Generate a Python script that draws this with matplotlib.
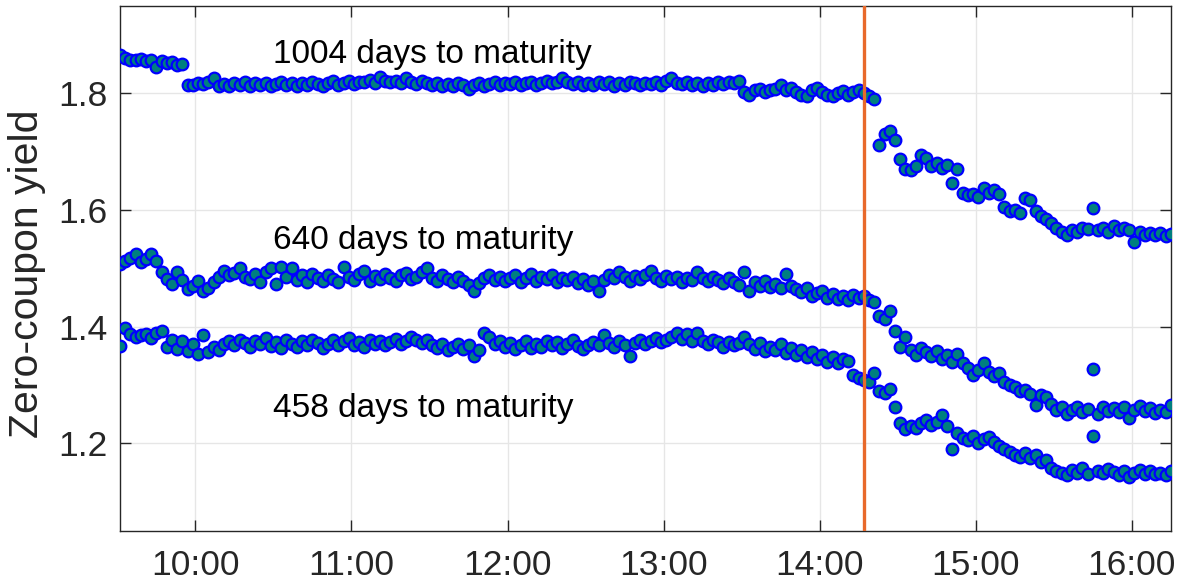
import numpy as np
import pandas as pd
import matplotlib
matplotlib.use('Agg')
import matplotlib.pyplot as plt
import matplotlib.dates as mdates

plt.rcParams['font.family'] = ['Liberation Sans', 'DejaVu Sans']

# intraday sampling grid (2 min), yields, in 1/1000
times = pd.date_range('2016-01-04 09:31', '2016-01-04 16:15', freq='2min')
event_time = pd.Timestamp('2016-01-04 14:17')

y1004 = np.array([
    1866, 1860, 1858, 1857, 1859, 1855, 1858, 1846, 1856, 1852,
    1854, 1849, 1851, 1815, 1814, 1817, 1816, 1819, 1827, 1813,
    1816, 1812, 1818, 1815, 1820, 1813, 1817, 1814, 1818, 1812,
    1816, 1819, 1814, 1817, 1813, 1818, 1815, 1820, 1816, 1813,
    1818, 1821, 1815, 1818, 1822, 1816, 1820, 1819, 1823, 1818,
    1828, 1821, 1819, 1822, 1818, 1827, 1820, 1816, 1821, 1818,
    1814, 1817, 1813, 1816, 1812, 1818, 1815, 1808, 1814, 1817,
    1813, 1816, 1819, 1815, 1818, 1816, 1819, 1814, 1817, 1820,
    1815, 1818, 1822, 1817, 1820, 1826, 1819, 1816, 1820, 1814,
    1818, 1815, 1819, 1816, 1820, 1813, 1818, 1815, 1819, 1817,
    1814, 1818, 1816, 1819, 1815, 1821, 1827, 1818, 1816, 1820,
    1814, 1817, 1813, 1818, 1815, 1819, 1816, 1820, 1818, 1822,
    1803, 1798, 1805, 1807, 1803, 1806, 1808, 1815, 1806, 1810,
    1802, 1797, 1795, 1806, 1810, 1802, 1798, 1795, 1800, 1804,
    1797, 1803, 1806, 1801, 1796, 1790, 1712, 1730, 1735, 1720,
    1688, 1670, 1668, 1675, 1694, 1690, 1676, 1681, 1672, 1678,
    1647, 1670, 1630, 1625, 1628, 1622, 1638, 1630, 1635, 1627,
    1606, 1598, 1600, 1595, 1620, 1618, 1598, 1590, 1584, 1578,
    1570, 1562, 1558, 1566, 1563, 1570, 1567, 1603, 1565, 1569,
    1562, 1572, 1566, 1570, 1565, 1546, 1563, 1558, 1561, 1557,
    1560, 1556, 1559]) / 1000

y640 = np.array([
    1508, 1513, 1518, 1525, 1511, 1516, 1525, 1513, 1494, 1482,
    1474, 1494, 1480, 1465, 1470, 1479, 1462, 1466, 1477, 1485,
    1496, 1488, 1492, 1500, 1486, 1481, 1490, 1477, 1494, 1500,
    1474, 1503, 1486, 1500, 1480, 1488, 1477, 1490, 1483, 1478,
    1489, 1482, 1477, 1503, 1486, 1480, 1491, 1496, 1479, 1487,
    1482, 1490, 1484, 1478, 1488, 1492, 1481, 1486, 1493, 1500,
    1484, 1478, 1488, 1481, 1476, 1485, 1479, 1472, 1462, 1475,
    1483, 1488, 1480, 1486, 1478, 1484, 1489, 1476, 1483, 1490,
    1479, 1485, 1481, 1488, 1477, 1484, 1480, 1486, 1475, 1482,
    1471, 1479, 1462, 1480, 1488, 1483, 1494, 1485, 1478, 1487,
    1482, 1489, 1496, 1484, 1479, 1487, 1481, 1486, 1477, 1484,
    1480, 1494, 1483, 1478, 1486, 1480, 1475, 1483, 1477, 1472,
    1494, 1462, 1476, 1470, 1478, 1468, 1473, 1466, 1490, 1470,
    1465, 1460, 1466, 1452, 1457, 1462, 1450, 1456, 1448, 1453,
    1446, 1455, 1449, 1452, 1445, 1443, 1419, 1414, 1427, 1392,
    1366, 1383, 1360, 1352, 1364, 1357, 1349, 1359, 1345, 1352,
    1340, 1354, 1338, 1330, 1318, 1326, 1337, 1322, 1315, 1320,
    1306, 1300, 1296, 1290, 1292, 1284, 1265, 1283, 1280, 1268,
    1257, 1262, 1251, 1258, 1262, 1254, 1259, 1328, 1251, 1263,
    1256, 1260, 1254, 1262, 1243, 1257, 1264, 1255, 1261, 1252,
    1258, 1254, 1265]) / 1000

y458 = np.array([
    1367, 1398, 1387, 1382, 1385, 1388, 1381, 1390, 1393, 1366,
    1378, 1362, 1375, 1358, 1370, 1354, 1385, 1357, 1366, 1360,
    1370, 1375, 1368, 1378, 1372, 1365, 1376, 1370, 1380, 1367,
    1374, 1363, 1378, 1371, 1366, 1375, 1369, 1378, 1372, 1364,
    1370, 1377, 1368, 1375, 1380, 1369, 1374, 1366, 1378, 1371,
    1376, 1368, 1373, 1379, 1370, 1375, 1382, 1377, 1372, 1378,
    1368, 1363, 1371, 1360, 1366, 1371, 1362, 1368, 1349, 1360,
    1390, 1382, 1370, 1376, 1366, 1372, 1362, 1369, 1375, 1364,
    1371, 1366, 1376, 1368, 1373, 1364, 1370, 1377, 1367, 1361,
    1369, 1374, 1368, 1385, 1372, 1366, 1375, 1369, 1349, 1372,
    1378, 1370, 1376, 1380, 1373, 1377, 1382, 1390, 1379, 1388,
    1375, 1389, 1376, 1370, 1378, 1373, 1366, 1374, 1369, 1372,
    1383, 1370, 1362, 1372, 1358, 1366, 1360, 1370, 1355, 1364,
    1352, 1360, 1348, 1356, 1345, 1352, 1340, 1348, 1338, 1344,
    1342, 1318, 1312, 1308, 1306, 1320, 1290, 1286, 1294, 1263,
    1235, 1224, 1230, 1226, 1235, 1240, 1232, 1237, 1248, 1230,
    1191, 1218, 1210, 1205, 1212, 1200, 1208, 1211, 1203, 1196,
    1190, 1186, 1180, 1176, 1183, 1175, 1180, 1168, 1172, 1158,
    1152, 1150, 1146, 1155, 1150, 1157, 1148, 1212, 1153, 1149,
    1156, 1151, 1145, 1152, 1142, 1149, 1155, 1147, 1153, 1148,
    1150, 1146, 1152]) / 1000

labels = ['1004 days to maturity', '640 days to maturity', '458 days to maturity']
label_y = [1.867, 1.547, 1.26]
label_time = pd.Timestamp('2016-01-04 10:30')

fig = plt.figure(figsize=(11.82, 5.86), dpi=100)
ax = fig.add_axes([0.1015, 0.094, 0.889, 0.896])

for ys in (y1004, y640, y458):
    ax.plot(times, ys, 'o', ms=8.4, mfc='#007f7f', mec='#0000ff', mew=1.6, zorder=3)

ax.axvline(event_time, color='#e8692b', lw=2.4, zorder=4)

for txt, yy in zip(labels, label_y):
    ax.text(label_time, yy, txt, fontsize=24, ha='left', va='center', color='black')

ax.set_xlim(pd.Timestamp('2016-01-04 09:31'), pd.Timestamp('2016-01-04 16:15'))
ax.set_ylim(1.05, 1.95)
ax.set_yticks([1.2, 1.4, 1.6, 1.8])
ax.xaxis.set_major_locator(mdates.HourLocator())
ax.xaxis.set_major_formatter(mdates.DateFormatter('%H:%M'))

ax.grid(True, color='#e6e6e6', lw=1)
ax.set_axisbelow(True)
ax.tick_params(direction='in', length=8, width=1, colors='#262626',
               labelsize=25.5, top=True, right=True, pad=9)
ax.tick_params(axis='x', pad=13)
for s in ax.spines.values():
    s.set_color('#262626')
    s.set_linewidth(1)

ax.set_ylabel('Zero-coupon yield', fontsize=29.5, color='#262626')
ax.yaxis.set_label_coords(-0.07, 0.49)

fig.savefig('out.png', dpi=100)
